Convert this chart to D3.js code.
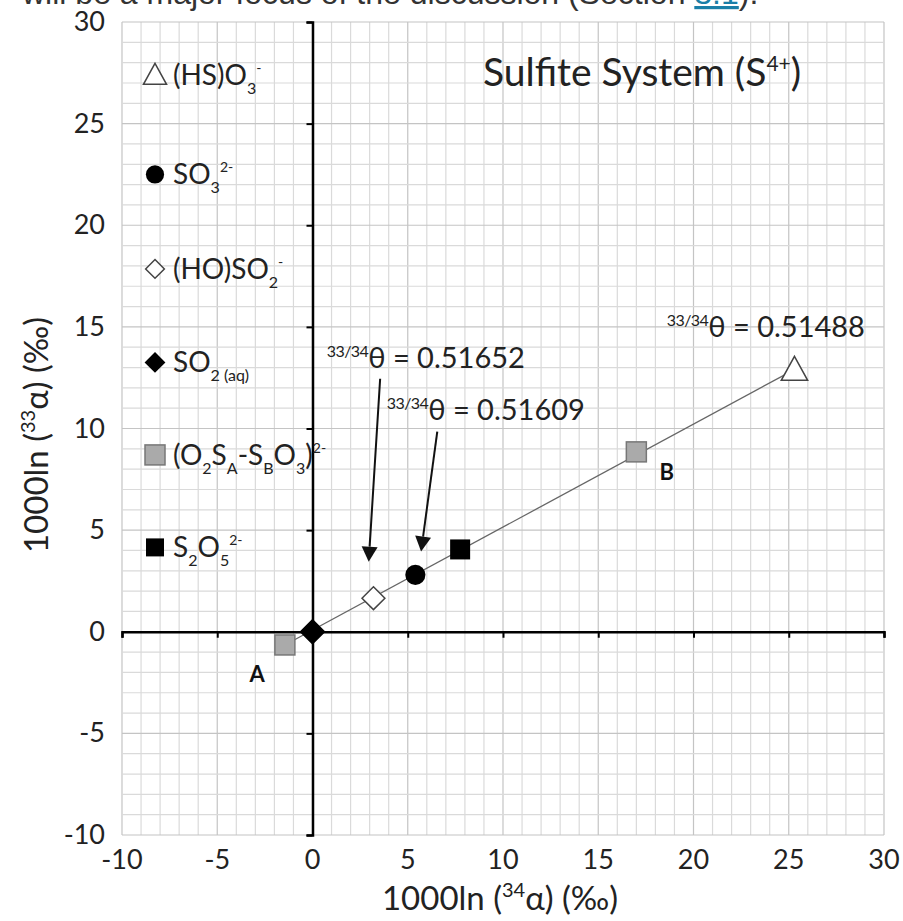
<!DOCTYPE html>
<html><head><meta charset="utf-8">
<script src="https://cdn.jsdelivr.net/npm/d3@7"></script>
<style>body{margin:0;background:#fff;}svg{display:block;}</style>
</head><body>
<svg id="c" width="903" height="921"></svg>
<script>
// ---- data ----
const species = ["(HS)O3-", "SO3 2-", "(HO)SO2-", "SO2(aq)", "(O2SA-SBO3)2- A", "(O2SA-SBO3)2- B", "S2O5 2-"];
const x34 = [25.3, 5.4, 3.2, 0, -1.45, 17.0, 7.75];
const y33 = [12.9, 2.8, 1.65, 0, -0.65, 8.85, 4.05];
const shapes = ["triangle", "circle", "diamondOpen", "diamond", "squareGray", "squareGray", "square"];
const xTicks = [-10, -5, 0, 5, 10, 15, 20, 25, 30];
const yTicks = [-10, -5, 0, 5, 10, 15, 20, 25, 30];
const legendShapes = ["triangle", "circle", "diamondOpen", "diamond", "squareGray", "square"];
const legendLabels = [
  [["(HS)O", ""], ["3", "sub"], ["-", "sup"]],
  [["SO", ""], ["3", "sub"], ["2-", "sup"]],
  [["(HO)SO", ""], ["2", "sub"], ["-", "sup"]],
  [["SO", ""], ["2 (aq)", "sub"]],
  [["(O", ""], ["2", "sub"], ["S", ""], ["A", "sub"], ["-S", ""], ["B", "sub"], ["O", ""], ["3", "sub"], [")", ""], ["2-", "sup"]],
  [["S", ""], ["2", "sub"], ["O", ""], ["5", "sub"], ["2-", "sup"]]
];
const legendY = [27.4, 22.5, 17.85, 13.25, 8.7, 4.15]; // legend rows, data units
const thetaLabels = ["0.51652", "0.51609", "0.51488"];
const thetaPos = [[0.75, 13.0], [3.9, 10.4], [18.6, 14.5]];
const arrows = [[[3.55, 12.45], [2.95, 3.45]], [[6.55, 9.85], [5.7, 3.95]]];
const fitLine = [[-1.45, -0.65], [25.3, 12.9]];

// ---- scales ----
const x = d3.scaleLinear().domain([-10, 30]).range([122, 884]);
const y = d3.scaleLinear().domain([-10, 30]).range([835, 22]);
const svg = d3.select("#c");
const FONT = "Lato, 'Open Sans', sans-serif";

// caption fragment at the top (cut off as in the source image)
const cap = svg.append("text").attr("x", 22).attr("y", 4).attr("font-family", "'Liberation Sans', Arial, sans-serif")
  .attr("font-size", 32).attr("fill", "#333");
cap.append("tspan").text("will be a major focus of the discussion (Section ");
cap.append("tspan").attr("fill", "#1a7fa8").attr("text-decoration", "underline").text("3.1");
cap.append("tspan").text(").");

// ---- grid ----
const g = svg.append("g");
const minor = d3.range(-10, 31, 1);
g.selectAll("line.vx").data(minor).join("line")
  .attr("x1", d => x(d)).attr("x2", d => x(d)).attr("y1", y(-10)).attr("y2", y(30))
  .attr("stroke", d => d % 5 === 0 ? "#c4c4c4" : "#dadada").attr("stroke-width", 1.2);
g.selectAll("line.hy").data(minor).join("line")
  .attr("y1", d => y(d)).attr("y2", d => y(d)).attr("x1", x(-10)).attr("x2", x(30))
  .attr("stroke", d => d % 5 === 0 ? "#c4c4c4" : "#dadada").attr("stroke-width", 1.2);

// ---- axes through origin ----
const xAxis = d3.axisBottom(x).tickValues(xTicks).tickSize(6).tickFormat("");
const yAxis = d3.axisLeft(y).tickValues(yTicks).tickSize(6).tickFormat("");
const gx = svg.append("g").attr("transform", `translate(0,${y(0)})`).call(xAxis);
const gy = svg.append("g").attr("transform", `translate(${x(0)},0)`).call(yAxis);
[gx, gy].forEach(a => {
  a.select(".domain").attr("stroke", "#000").attr("stroke-width", 2.5);
  a.selectAll(".tick line").attr("stroke", "#000").attr("stroke-width", 2);
});

// tick labels at plot edges
svg.append("g").selectAll("text").data(xTicks).join("text")
  .attr("x", d => x(d)).attr("y", 869).attr("text-anchor", "middle")
  .attr("font-family", FONT).attr("font-size", 27).attr("fill", "#222").text(d => d);
svg.append("g").selectAll("text").data(yTicks).join("text")
  .attr("x", 105).attr("y", d => y(d) + 9).attr("text-anchor", "end")
  .attr("font-family", FONT).attr("font-size", 27).attr("fill", "#222").text(d => d);

// axis titles
const xt = svg.append("text").attr("x", 500).attr("y", 910).attr("text-anchor", "middle")
  .attr("font-family", FONT).attr("font-size", 33).attr("fill", "#222");
xt.append("tspan").text("1000ln (");
xt.append("tspan").attr("font-size", 20).attr("dy", -13).text("34");
xt.append("tspan").attr("dy", 13).text("α) (‰)");
const yt = svg.append("text").attr("transform", `translate(48,435) rotate(-90)`).attr("text-anchor", "middle")
  .attr("font-family", FONT).attr("font-size", 33).attr("fill", "#222");
yt.append("tspan").text("1000ln (");
yt.append("tspan").attr("font-size", 20).attr("dy", -13).text("33");
yt.append("tspan").attr("dy", 13).text("α) (‰)");

// ---- fit line ----
svg.append("line").attr("x1", x(fitLine[0][0])).attr("y1", y(fitLine[0][1]))
  .attr("x2", x(fitLine[1][0])).attr("y2", y(fitLine[1][1]))
  .attr("stroke", "#666").attr("stroke-width", 1.3);

// ---- symbols ----
function drawShape(sel, shape, cx, cy, s) {
  if (shape === "triangle") {
    sel.append("path").attr("d", `M${cx},${cy - s * 0.55}L${cx + s * 0.55},${cy + s * 0.45}L${cx - s * 0.55},${cy + s * 0.45}Z`)
      .attr("fill", "#fff").attr("stroke", "#444").attr("stroke-width", 1.5);
  } else if (shape === "circle") {
    sel.append("circle").attr("cx", cx).attr("cy", cy).attr("r", s * 0.48).attr("fill", "#000");
  } else if (shape === "diamondOpen" || shape === "diamond") {
    const r = s * 0.52;
    sel.append("path").attr("d", `M${cx},${cy - r}L${cx + r},${cy}L${cx},${cy + r}L${cx - r},${cy}Z`)
      .attr("fill", shape === "diamond" ? "#000" : "#fff").attr("stroke", shape === "diamond" ? "#000" : "#444").attr("stroke-width", 1.5);
  } else if (shape === "squareGray") {
    sel.append("rect").attr("x", cx - s / 2).attr("y", cy - s / 2).attr("width", s).attr("height", s)
      .attr("fill", "#aaa").attr("stroke", "#777").attr("stroke-width", 1.5);
  } else if (shape === "square") {
    sel.append("rect").attr("x", cx - s / 2).attr("y", cy - s / 2).attr("width", s).attr("height", s).attr("fill", "#000");
  }
}
const pts = svg.append("g");
const sizes = {triangle: 24, circle: 21, diamondOpen: 22, diamond: 23, squareGray: 20, square: 20};
species.forEach((sp, i) => drawShape(pts, shapes[i], x(x34[i]), y(y33[i]), sizes[shapes[i]]));

// A / B labels
svg.append("text").attr("x", x(-2.9)).attr("y", y(-2.45)).attr("text-anchor", "middle")
  .attr("font-family", FONT).attr("font-weight", "bold").attr("font-size", 22).attr("fill", "#111").text("A");
svg.append("text").attr("x", x(18.6)).attr("y", y(7.45)).attr("text-anchor", "middle")
  .attr("font-family", FONT).attr("font-weight", "bold").attr("font-size", 22).attr("fill", "#111").text("B");

// ---- legend ----
const lg = svg.append("g");
legendShapes.forEach((sh, i) => {
  const cy = y(legendY[i]);
  drawShape(lg, sh, 155, cy, sh === "triangle" ? 21 : sh === "circle" ? 19 : sh === "squareGray" ? 20 : 18);
  const t = lg.append("text").attr("x", 173).attr("y", cy + 10).attr("font-family", FONT).attr("font-size", 28).attr("fill", "#222");
  let prev = "";
  legendLabels[i].forEach(([txt, kind]) => {
    const ts = t.append("tspan").text(txt);
    let dy = 0;
    if (kind === "sub") { ts.attr("font-size", 16); dy = (prev === "sup" ? 21 : 9); }
    else if (kind === "sup") { ts.attr("font-size", 14); dy = (prev === "sub" ? -21 : -12); }
    else { ts.attr("font-size", 28); dy = prev === "sub" ? -9 : prev === "sup" ? 12 : 0; }
    ts.attr("dy", dy);
    prev = kind;
  });
});

// ---- title ----
const tt = svg.append("text").attr("x", x(8.95)).attr("y", y(26.85)).attr("font-family", FONT).attr("font-size", 39).attr("fill", "#222");
tt.append("tspan").text("Sulfite System (S");
tt.append("tspan").attr("font-size", 21).attr("dy", -15).text("4+");
tt.append("tspan").attr("dy", 15).text(")");

// ---- theta annotations ----
thetaLabels.forEach((v, i) => {
  const t = svg.append("text").attr("x", x(thetaPos[i][0])).attr("y", y(thetaPos[i][1]))
    .attr("font-family", FONT).attr("font-size", 29).attr("fill", "#222");
  t.append("tspan").attr("font-size", 16).attr("dy", -11).attr("letter-spacing", -0.6).text("33/34");
  t.append("tspan").attr("dy", 11).text("θ = " + v);
});
arrows.forEach(([a, b]) => {
  const x1 = x(a[0]), y1 = y(a[1]), x2 = x(b[0]), y2 = y(b[1]);
  const ang = Math.atan2(y2 - y1, x2 - x1);
  const L = 15, hw = 8;
  const bx = x2 - L * Math.cos(ang), by = y2 - L * Math.sin(ang);
  svg.append("line").attr("x1", x1).attr("y1", y1).attr("x2", bx).attr("y2", by).attr("stroke", "#111").attr("stroke-width", 2);
  const px = -Math.sin(ang) * hw, py = Math.cos(ang) * hw;
  svg.append("path").attr("d", `M${x2},${y2}L${bx + px},${by + py}L${bx - px},${by - py}Z`).attr("fill", "#111");
});
</script>
</body></html>
